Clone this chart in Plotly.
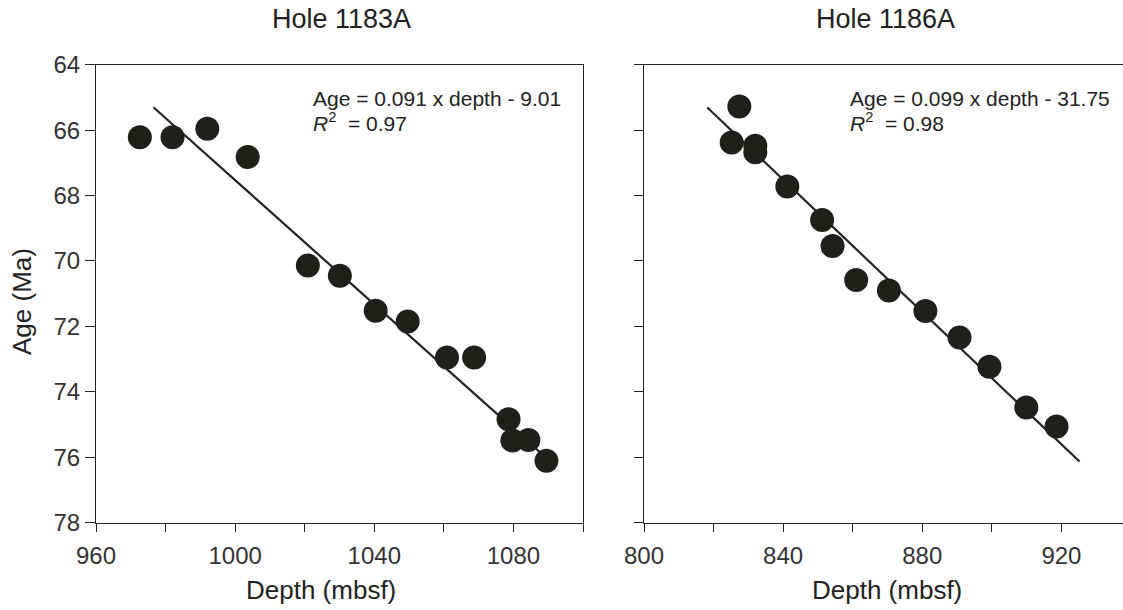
import plotly.graph_objects as go

# ---- data ----
depth_1183 = [972.6, 982.0, 992.0, 1003.6, 1020.9, 1030.1, 1040.4, 1049.6, 1060.9, 1068.7, 1078.6, 1079.7, 1084.3, 1089.5]
age_1183 = [66.22, 66.22, 65.96, 66.82, 70.14, 70.45, 71.52, 71.85, 72.95, 72.95, 74.84, 75.49, 75.47, 76.11]
fit_x_1183 = [976.5, 1088.5]
fit_y_1183 = [65.3, 75.93]

depth_1186 = [827.4, 825.2, 832.0, 832.0, 841.2, 851.2, 854.2, 861.0, 870.4, 880.9, 890.7, 899.3, 909.9, 918.6]
age_1186 = [65.28, 66.38, 66.48, 66.68, 67.72, 68.75, 69.54, 70.58, 70.90, 71.53, 72.34, 73.23, 74.48, 75.06]
fit_x_1186 = [818.2, 925.2]
fit_y_1186 = [65.31, 76.13]

x_ticks_1183 = [960, 1000, 1040, 1080]
x_minor_1183 = [980, 1020, 1060, 1100]
x_ticks_1186 = [800, 840, 880, 920]
x_minor_1186 = [820, 860, 900]
y_ticks = [64, 66, 68, 70, 72, 74, 76, 78]

titles = ["Hole 1183A", "Hole 1186A"]
equations = ["Age = 0.091 x depth - 9.01", "Age = 0.099 x depth - 31.75"]
r2_text = ["<i>R</i><sup>2</sup>\u00a0 = 0.97", "<i>R</i><sup>2</sup>\u00a0 = 0.98"]

W, H = 1123, 610
FONT = "Liberation Sans, Arial, sans-serif"
INK = "#222222"
DOT = "#1f1f1c"

def px_x(p):
    return p / W

def px_y(p):
    return 1 - p / H

fig = go.Figure()

fig.add_trace(go.Scatter(x=fit_x_1183, y=fit_y_1183, mode="lines",
                         line=dict(color=INK, width=2.2), xaxis="x", yaxis="y", showlegend=False))
fig.add_trace(go.Scatter(x=depth_1183, y=age_1183, mode="markers",
                         marker=dict(size=24, color=DOT, line=dict(width=0)),
                         xaxis="x", yaxis="y", showlegend=False))
fig.add_trace(go.Scatter(x=fit_x_1186, y=fit_y_1186, mode="lines",
                         line=dict(color=INK, width=2.2), xaxis="x2", yaxis="y2", showlegend=False))
fig.add_trace(go.Scatter(x=depth_1186, y=age_1186, mode="markers",
                         marker=dict(size=24, color=DOT, line=dict(width=0)),
                         xaxis="x2", yaxis="y2", showlegend=False))

ydom = [px_y(522.7), px_y(64.7)]
axis_common = dict(showgrid=False, zeroline=False, linecolor=INK, linewidth=1,
                   ticks="outside", tickcolor=INK, tickwidth=1,
                   tickfont=dict(family=FONT, size=24, color="#333333"), automargin=False)

x_right_px = (W - 644) / (487 / 140)

fig.update_layout(
    width=W, height=H,
    margin=dict(l=0, r=0, t=0, b=0),
    paper_bgcolor="white", plot_bgcolor="white",
    xaxis=dict(domain=[px_x(96), px_x(583)], range=[960, 1100], anchor="y",
               tickmode="array", tickvals=x_ticks_1183,
               minor=dict(tickmode="array", tickvals=x_minor_1183, ticks="outside",
                          ticklen=8, tickcolor=INK, tickwidth=1),
               ticklen=8, mirror=True, ticklabelstandoff=3, **axis_common),
    yaxis=dict(domain=ydom, range=[78, 64], anchor="x",
               tickmode="array", tickvals=y_ticks, ticklen=10, mirror=True, **axis_common),
    xaxis2=dict(domain=[px_x(644), 1.0], range=[800, 800 + x_right_px], anchor="y2",
                tickmode="array", tickvals=x_ticks_1186,
                minor=dict(tickmode="array", tickvals=x_minor_1186, ticks="outside",
                           ticklen=8, tickcolor=INK, tickwidth=1),
                ticklen=8, mirror=True, ticklabelstandoff=3, **axis_common),
    yaxis2=dict(domain=ydom, range=[78, 64], anchor="x2",
                tickmode="array", tickvals=y_ticks, ticklen=9, showticklabels=False,
                mirror=False, **axis_common),
)

ann = []
for cx, t in zip([341.7, 885.0], titles):
    ann.append(dict(text=t, x=px_x(cx), y=px_y(19), xref="paper", yref="paper",
                    xanchor="center", yanchor="middle", showarrow=False,
                    font=dict(family=FONT, size=27, color=INK)))
for cx in [321.0, 887.0]:
    ann.append(dict(text="Depth (mbsf)", x=px_x(cx), y=px_y(590), xref="paper", yref="paper",
                    xanchor="center", yanchor="middle", showarrow=False,
                    font=dict(family=FONT, size=26, color=INK)))
ann.append(dict(text="Age (Ma)", x=px_x(22), y=px_y(302), xref="paper", yref="paper",
                xanchor="center", yanchor="middle", textangle=-90, showarrow=False,
                font=dict(family=FONT, size=26, color=INK)))
for lx, eq, r2 in zip([311.0, 848.0], equations, r2_text):
    ann.append(dict(text=eq, x=px_x(lx), y=px_y(98), xref="paper", yref="paper",
                    xanchor="left", yanchor="middle", showarrow=False,
                    font=dict(family=FONT, size=21, color=INK)))
    ann.append(dict(text=r2, x=px_x(lx), y=px_y(122), xref="paper", yref="paper",
                    xanchor="left", yanchor="middle", showarrow=False,
                    font=dict(family=FONT, size=21, color=INK)))
fig.update_layout(annotations=ann)

fig.write_html("out.html",
               config={"displayModeBar": False},
               post_script="document.body.style.margin='0';document.body.style.overflow='hidden';")
